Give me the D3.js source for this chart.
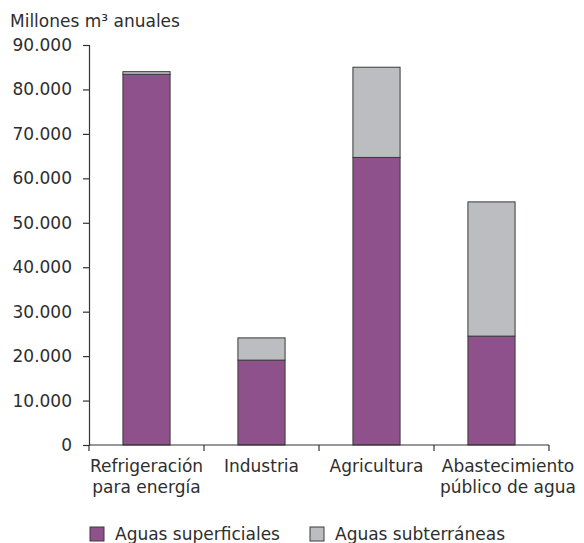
<!DOCTYPE html>
<html>
<head>
<meta charset="utf-8">
<script src="https://cdn.jsdelivr.net/npm/d3@7"></script>
<style>
	body { margin: 0; background: #fff; }
	text { font-family: "DejaVu Sans", sans-serif; fill: #2e2e2e; }
</style>
</head>
<body>
<div id="chart"></div>
<script>
// categories, two text lines each
var categories = [
	["Refrigeración", "para energía"],
	["Industria"],
	["Agricultura"],
	["Abastecimiento", "público de agua"]
];
var superficiales = [83400, 19100, 64700, 24500];
var subterraneas = [600, 5000, 20300, 30200];
var seriesNames = ["Aguas superficiales", "Aguas subterráneas"];
var seriesColors = ["#8e518b", "#bcbdc1"];
var yTicks = [0, 10000, 20000, 30000, 40000, 50000, 60000, 70000, 80000, 90000];
var yTitle = "Millones m³ anuales";

var width = 584, height = 543;
var margin = {top: 45, right: 35, bottom: 98, left: 89};

var svg = d3.select("#chart")
	.append("svg")
	.attr("width", width)
	.attr("height", height);

var xScale = d3.scaleBand()
	.domain(d3.range(categories.length))
	.range([margin.left, width - margin.right])
	.padding(0);

var yScale = d3.scaleLinear()
	.domain([0, 90000])
	.range([height - margin.bottom, margin.top]);

var fmt = function(d){
	return d3.format(",")(d).replace(/,/g, ".");
};

//Stack the two series
var rows = categories.map(function(c, i){
	return {i: i, sup: superficiales[i], sub: subterraneas[i]};
});
var stacked = d3.stack().keys(["sup", "sub"])(rows);

var barW = xScale.bandwidth() * 0.41;

stacked.forEach(function(layer, k){
	svg.append("g")
		.selectAll("rect")
		.data(layer)
		.enter().append("rect")
		.attr("x", function(d){ return xScale(d.data.i) + (xScale.bandwidth() - barW) / 2; })
		.attr("y", function(d){ return yScale(d[1]); })
		.attr("width", barW)
		.attr("height", function(d){ return yScale(d[0]) - yScale(d[1]); })
		.attr("fill", seriesColors[k])
		.attr("stroke", "#3a3a3a")
		.attr("stroke-width", 1);
});

//Y axis
var yAxis = d3.axisLeft(yScale)
	.tickValues(yTicks)
	.tickSize(6)
	.tickPadding(11)
	.tickFormat(fmt);

var gy = svg.append("g")
	.attr("transform", "translate(" + margin.left + ",0)")
	.call(yAxis);
gy.selectAll("path, line").attr("stroke", "#333").attr("stroke-width", 1.2);
gy.selectAll("text").style("font-size", "17px").attr("fill", "#2e2e2e");

//X axis: line with ticks on the category boundaries
var y0 = yScale(0);
var gx = svg.append("g");
gx.append("line")
	.attr("x1", margin.left).attr("x2", width - margin.right)
	.attr("y1", y0).attr("y2", y0)
	.attr("stroke", "#333").attr("stroke-width", 1.2);
gx.selectAll(".bt")
	.data(d3.range(categories.length + 1))
	.enter().append("line")
	.attr("x1", function(d){ return margin.left + d * xScale.step(); })
	.attr("x2", function(d){ return margin.left + d * xScale.step(); })
	.attr("y1", y0).attr("y2", y0 + 6)
	.attr("stroke", "#333").attr("stroke-width", 1.2);

var labels = gx.selectAll(".lbl")
	.data(categories)
	.enter().append("text")
	.attr("text-anchor", "middle")
	.style("font-size", "17px")
	.attr("transform", function(d, i){
		return "translate(" + (xScale(i) + xScale.bandwidth() / 2) + "," + (y0 + 27) + ")";
	})
	.html(function(d){
		var str = "";
		d.forEach(function(line, j){
			str += "<tspan x='0' dy='" + (j === 0 ? 0 : 21) + "'>" + line + "</tspan>";
		});
		return str;
	});

//Keep a label from crossing the left boundary tick of its band
labels.each(function(d, i){
	var w = this.getBBox().width;
	var cx = xScale(i) + xScale.bandwidth() / 2;
	var minLeft = xScale(i) + 6;
	if (i > 0 && cx - w / 2 < minLeft){
		cx = minLeft + w / 2;
		d3.select(this).attr("transform", "translate(" + cx + "," + (y0 + 27) + ")");
	}
});

//Axis title
svg.append("text")
	.attr("x", 10)
	.attr("y", 27)
	.style("font-size", "17px")
	.text(yTitle);

//Legend
var legendX = [90, 310];
var legend = svg.append("g");
seriesNames.forEach(function(name, k){
	legend.append("rect")
		.attr("x", legendX[k]).attr("y", 527)
		.attr("width", 14).attr("height", 14)
		.attr("fill", seriesColors[k])
		.attr("stroke", "#3a3a3a");
	legend.append("text")
		.attr("x", legendX[k] + 25)
		.attr("y", 540)
		.style("font-size", "17px")
		.text(name);
});
</script>
</body>
</html>
